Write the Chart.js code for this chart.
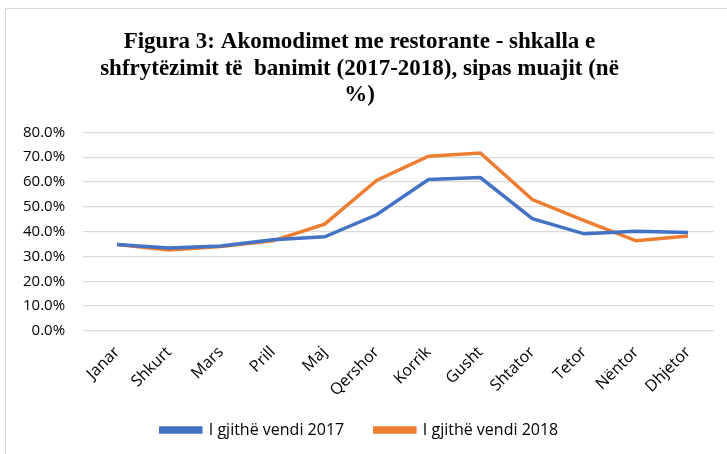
<!DOCTYPE html>
<html>
<head>
<meta charset="utf-8">
<script src="https://cdn.jsdelivr.net/npm/chart.js@4/dist/chart.umd.min.js"></script>
<style>
  body { margin: 0; background: #fff; }
  .frame { position: absolute; left: 5px; top: 8px; width: 730px; height: 450px; border: 1px solid #d9d9d9; }
  .wrap { position: absolute; left: 0; top: 0; width: 727px; height: 454px; }
</style>
</head>
<body>
<div class="frame"></div>
<div class="wrap"><canvas id="chart"></canvas></div>
<script>
const months = ['Janar', 'Shkurt', 'Mars', 'Prill', 'Maj', 'Qershor', 'Korrik', 'Gusht', 'Shtator', 'Tetor', 'Nëntor', 'Dhjetor'];
const values2017 = [34.8, 33.4, 34.2, 36.7, 37.9, 46.8, 61.0, 61.8, 45.2, 39.1, 40.1, 39.6];
const values2018 = [34.8, 32.6, 34.0, 36.3, 43.0, 60.6, 70.4, 71.7, 52.9, 44.4, 36.3, 38.2];
const seriesNames = ['I gjithë vendi 2017', 'I gjithë vendi 2018'];
const titleLines = [
  'Figura 3: Akomodimet me restorante - shkalla e',
  'shfrytëzimit të  banimit (2017-2018), sipas muajit (në',
  '%)'
];

new Chart(document.getElementById('chart').getContext('2d'), {
  type: 'line',
  data: {
    labels: months,
    datasets: [
      { label: seriesNames[0], data: values2017, borderColor: '#4472c4', backgroundColor: '#4472c4', borderWidth: 3.5, pointRadius: 0, tension: 0 },
      { label: seriesNames[1], data: values2018, borderColor: '#ed7d31', backgroundColor: '#ed7d31', borderWidth: 3.5, pointRadius: 0, tension: 0 },
    ],
  },
  options: {
    responsive: true,
    maintainAspectRatio: false,
    animation: false,
    layout: { padding: { left: 5, right: 13, top: 22, bottom: 6 } },
    plugins: {
      title: {
        display: true,
        text: titleLines,
        color: '#000',
        font: { family: 'Liberation Serif', size: 23, weight: 'bold', lineHeight: 1.15 },
        padding: { top: 7, bottom: 24 },
      },
      legend: {
        position: 'bottom',
        labels: {
          boxWidth: 40,
          boxHeight: 4,
          color: '#000',
          font: { family: 'Open Sans', size: 16 },
          padding: 14,
          // wider gap between the two entries, like the original
          generateLabels: (chart) => Chart.defaults.plugins.legend.labels.generateLabels(chart)
            .map((item, i) => ({ ...item, text: i === 0 ? item.text + '    ' : item.text })),
        },
      },
      tooltip: { enabled: false },
    },
    scales: {
      x: {
        offset: true,
        grid: { display: false },
        border: { display: false },
        ticks: { color: '#000', font: { family: 'Open Sans', size: 16 }, minRotation: 45, maxRotation: 45, padding: 4 },
        afterFit: (axis) => { axis.height += 4; },
      },
      y: {
        min: 0,
        max: 80,
        grid: { color: '#d9d9d9', lineWidth: 1.2 },
        border: { display: false },
        ticks: {
          stepSize: 10,
          color: '#000',
          font: { family: 'Open Sans', size: 15 },
          padding: 18,
          callback: (v) => v.toFixed(1) + '%',
        },
      },
    },
  },
});
</script>
</body>
</html>
